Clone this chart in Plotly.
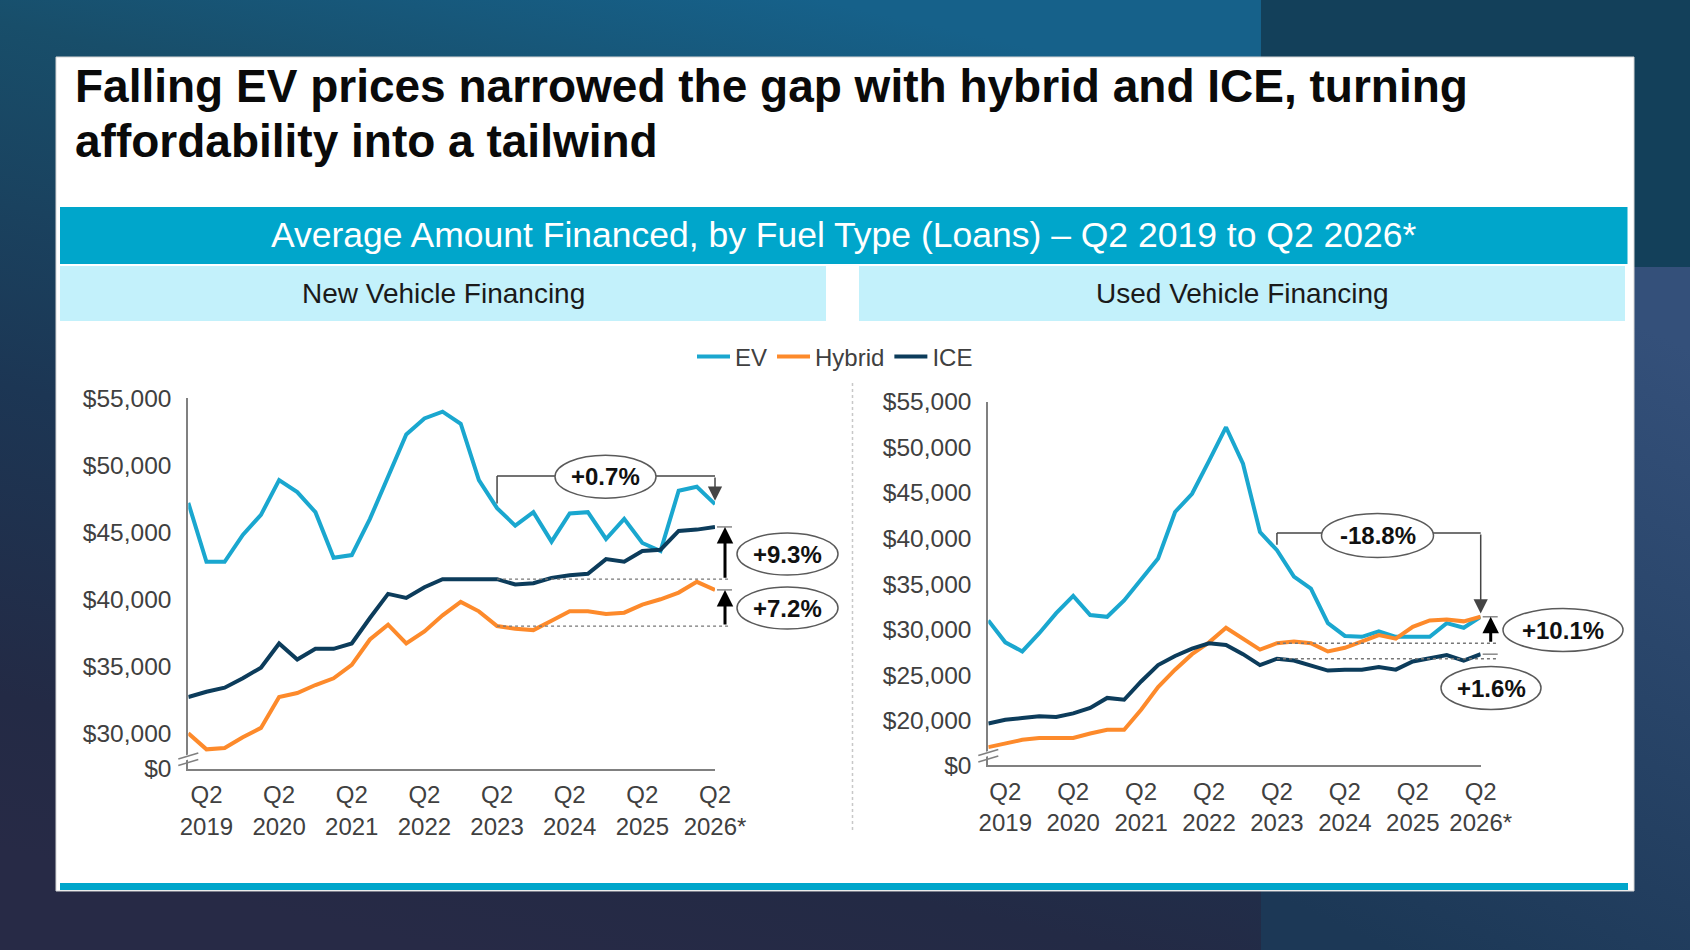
import base64
import plotly.graph_objects as go

# quarters Q1 2019 .. Q2 2026 (30 points)
quarters = [f"Q{q} {yr}" for yr in range(2019, 2027) for q in range(1, 5)][:30]
tick_quarters = [f"Q2 {yr}" for yr in range(2019, 2027)]
tick_text = ["Q2<br>2019", "Q2<br>2020", "Q2<br>2021", "Q2<br>2022",
             "Q2<br>2023", "Q2<br>2024", "Q2<br>2025", "Q2<br>2026*"]

# New vehicle financing ($)
ev_new = [47200, 42800, 42800, 44800, 46300, 48900, 48000, 46500, 43100, 43300,
          46000, 49100, 52300, 53500, 54000, 53100, 48900, 46800, 45500, 46500,
          44300, 46400, 46500, 44500, 46000, 44200, 43600, 48100, 48400, 47100]
hyb_new = [30000, 28800, 28900, 29700, 30400, 32700, 33000, 33600, 34100, 35100,
           37000, 38100, 36700, 37600, 38800, 39800, 39100, 38000, 37800, 37700,
           38400, 39100, 39100, 38900, 39000, 39600, 40000, 40500, 41300, 40700]
ice_new = [32700, 33100, 33400, 34100, 34900, 36700, 35500, 36300, 36300, 36700,
           38600, 40400, 40100, 40900, 41500, 41500, 41500, 41500, 41100, 41200,
           41600, 41800, 41900, 43000, 42800, 43600, 43700, 45100, 45200, 45400]

# Used vehicle financing ($)
ev_used = [31000, 28600, 27600, 29600, 31800, 33700, 31600, 31400, 33200, 35500,
           37800, 42900, 44900, 48500, 52200, 48200, 40700, 38700, 35800, 34500,
           30700, 29300, 29200, 29800, 29200, 29200, 29200, 30700, 30200, 31400]
hyb_used = [17100, 17500, 17900, 18100, 18100, 18100, 18600, 19000, 19000, 21200,
            23700, 25600, 27300, 28600, 30200, 29000, 27800, 28500, 28700, 28500,
            27600, 28000, 28700, 29400, 29000, 30300, 31000, 31100, 30900, 31400]
ice_used = [19700, 20100, 20300, 20500, 20400, 20800, 21400, 22500, 22300, 24300,
            26100, 27100, 27900, 28500, 28300, 27300, 26100, 26800, 26600, 26100,
            25500, 25600, 25600, 25900, 25600, 26500, 26800, 27200, 26600, 27300]

new_ticks = [30000, 35000, 40000, 45000, 50000, 55000]
used_ticks = [20000, 25000, 30000, 35000, 40000, 45000, 50000, 55000]

labels_new = {"ev": "+0.7%", "ice": "+9.3%", "hyb": "+7.2%"}
labels_used = {"ev": "-18.8%", "hyb": "+10.1%", "ice": "+1.6%"}

W, H = 1690, 950
FONT = "Liberation Sans, Arial, sans-serif"
C_EV, C_HYB, C_ICE = "#1aa7cf", "#fd8a2b", "#0c3c5b"
TEAL = "#00a6cb"


def px(x):
    return x / W


def py(y):
    return 1 - y / H


# plot areas in pixels
L_X0, L_X1, L_Y0, L_Y1 = 188.3, 715, 398.3, 768.5
R_X0, R_X1, R_Y0, R_Y1 = 988.3, 1480.7, 401.7, 765
new_base = 27370   # where the broken axis shows $0
used_base = 15140
i0 = 17            # Q2 2023, base of the comparisons


def xl(i, dx=0):
    return px(L_X0 + i * (L_X1 - L_X0) / 29 + dx)


def xr(i, dx=0):
    return px(R_X0 + i * (R_X1 - R_X0) / 29 + dx)


fig = go.Figure()

for name, vals, col in [("EV", ev_new, C_EV), ("Hybrid", hyb_new, C_HYB), ("ICE", ice_new, C_ICE)]:
    fig.add_trace(go.Scatter(x=quarters, y=vals, name=name, mode="lines",
                             line=dict(color=col, width=4), cliponaxis=False,
                             xaxis="x", yaxis="y"))
for name, vals, col in [("EV", ev_used, C_EV), ("Hybrid", hyb_used, C_HYB), ("ICE", ice_used, C_ICE)]:
    fig.add_trace(go.Scatter(x=quarters, y=vals, name=name, mode="lines", showlegend=False,
                             line=dict(color=col, width=4), cliponaxis=False,
                             xaxis="x2", yaxis="y2"))

# background picture (gradient) as svg
svg = f"""<svg xmlns='http://www.w3.org/2000/svg' width='{W}' height='{H}' viewBox='0 0 {W} {H}' preserveAspectRatio='none'>
<defs>
<linearGradient id='a' x1='0.65' y1='0' x2='0.35' y2='1'>
<stop offset='0' stop-color='#16618a'/>
<stop offset='0.2' stop-color='#184e6a'/>
<stop offset='0.55' stop-color='#1c3654'/>
<stop offset='0.85' stop-color='#232a45'/>
<stop offset='1' stop-color='#272a46'/>
</linearGradient>
<linearGradient id='b' x1='0.6' y1='0' x2='0.3' y2='1'>
<stop offset='0' stop-color='#34507a'/>
<stop offset='1' stop-color='#1c3856'/>
</linearGradient>
</defs>
<rect x='0' y='0' width='1261' height='{H}' fill='url(#a)'/>
<rect x='1261' y='0' width='429' height='267' fill='#13405a'/>
<rect x='1261' y='267' width='429' height='683' fill='url(#b)'/>
</svg>"""
bg_src = "data:image/svg+xml;base64," + base64.b64encode(svg.encode()).decode()

shapes = []


def rect(x0, y0, x1, y1, fill, line=None):
    shapes.append(dict(type="rect", xref="paper", yref="paper", layer="below",
                       x0=px(x0), x1=px(x1), y0=py(y1), y1=py(y0), fillcolor=fill,
                       line=dict(width=1 if line else 0, color=line or fill)))


rect(56, 57, 1634, 891, "white", "#d6d6d6")
rect(60, 207, 1627.5, 264, TEAL)
rect(60, 266, 826, 321, "#c3f1fb")
rect(859, 266, 1625, 321, "#c3f1fb")
rect(60, 883, 1628, 890, TEAL)

# dotted separator
shapes.append(dict(type="line", xref="paper", yref="paper", x0=px(852.5), x1=px(852.5),
                   y0=py(383), y1=py(830), line=dict(color="#c8c8c8", width=1.5, dash="dot")))

# axis breaks
for ax0, yb in [(L_X0, L_Y1), (R_X0, R_Y1)]:
    shapes.append(dict(type="path", xref="paper", yref="paper",
                       path=f"M{px(ax0 - 3)},{py(yb - 8)} L{px(ax0 + 3)},{py(yb - 10)} "
                            f"L{px(ax0 + 3)},{py(yb - 15)} L{px(ax0 - 3)},{py(yb - 13)} Z",
                       fillcolor="white", line=dict(width=0)))
    for off in (6, 12.5):
        shapes.append(dict(type="line", xref="paper", yref="paper",
                           x0=px(ax0 - 10), y0=py(yb - off + 3), x1=px(ax0 + 10), y1=py(yb - off - 3),
                           line=dict(color="#808080", width=1.5)))

annotations = []
GRAY = "#454545"


def line(x0, y0, x1, y1, yref, dash=None, color=GRAY, width=1.5):
    shapes.append(dict(type="line", xref="paper", yref=yref, x0=x0, x1=x1, y0=y0, y1=y1,
                       line=dict(color=color, width=width, dash=dash)))


def bubble(cx, cy, w, h, text):
    shapes.append(dict(type="circle", xref="paper", yref="paper",
                       x0=px(cx - w / 2), x1=px(cx + w / 2), y0=py(cy + h / 2), y1=py(cy - h / 2),
                       fillcolor="white", line=dict(color="#5a5a5a", width=1.5)))
    annotations.append(dict(x=px(cx), y=py(cy), xref="paper", yref="paper", text=f"<b>{text}</b>",
                            xanchor="center", yanchor="middle", showarrow=False,
                            font=dict(family=FONT, size=24, color="#111111")))


def arrow(x, y_from, y_to, yref, color="black", width=3, size=1.1):
    annotations.append(dict(x=x, y=y_to, xref="paper", yref=yref, ax=0, ay=y_from, ayref=yref,
                            text="", showarrow=True, arrowhead=2, arrowsize=size,
                            arrowwidth=width, arrowcolor=color, standoff=0))


# New vehicles: EV bracket
line(xl(i0), ev_new[i0] + 350, xl(i0), 49200, "y")
line(xl(i0), 49200, xl(29), 49200, "y")
arrow(xl(29), 49200, ev_new[29] + 250, "y", color=GRAY, width=1.5, size=1.9)
bubble(605.5, 476.7, 101, 43, labels_new["ev"])

# New vehicles: ICE and hybrid gaps vs Q2 2023
for vals in (ice_new, hyb_new):
    line(xl(i0), vals[i0], xl(29, 16), vals[i0], "y", dash="3px,3px", color="#777777", width=1.3)
    line(xl(29, 2), vals[29], xl(29, 17), vals[29], "y", color="#777777", width=1.3)
    arrow(xl(29, 10), vals[i0], vals[29], "y")
bubble(787.5, 554, 101, 42, labels_new["ice"])
bubble(787.5, 608, 101, 42, labels_new["hyb"])

# Used vehicles: EV bracket
line(xr(i0), ev_used[i0] + 600, xr(i0), 40600, "y2")
line(xr(i0), 40600, xr(29), 40600, "y2")
arrow(xr(29), 40600, ev_used[29] + 350, "y2", color=GRAY, width=1.5, size=1.9)
bubble(1377.5, 535.6, 112, 44, labels_used["ev"])

for vals in (hyb_used, ice_used):
    line(xr(i0), vals[i0], xr(29, 16), vals[i0], "y2", dash="3px,3px", color="#777777", width=1.3)
    line(xr(29, 2), vals[29], xr(29, 17), vals[29], "y2", color="#777777", width=1.3)
    arrow(xr(29, 10), vals[i0], vals[29], "y2")
bubble(1563, 630, 120, 43, labels_used["hyb"])
bubble(1491, 688, 100, 43, labels_used["ice"])


def text(x, y, s, size, color, anchor="center"):
    annotations.append(dict(x=px(x), y=py(y), xref="paper", yref="paper", text=s,
                            xanchor=anchor, yanchor="middle", showarrow=False,
                            font=dict(family=FONT, size=size, color=color)))


text(73, 86, "<b>Falling EV prices narrowed the gap with hybrid and ICE, turning</b>", 46, "#0a0a0a", "left")
text(73, 141, "<b>affordability into a tailwind</b>", 46, "#0a0a0a", "left")
text(843.5, 234.7, "Average Amount Financed, by Fuel Type (Loans) \u2013 Q2 2019 to Q2 2026*", 35.5, "white")
text(443, 293, "New Vehicle Financing", 28, "#1a1a1a")
text(1242, 293, "Used Vehicle Financing", 28, "#1a1a1a")

xcommon = dict(type="category", categoryorder="array", categoryarray=quarters, range=[0, 29],
               showgrid=False, zeroline=False, showline=True, linecolor="#808080", linewidth=2,
               ticks="", tickvals=tick_quarters, ticktext=tick_text, ticklabelstandoff=4,
               automargin=False, tickfont=dict(family=FONT, size=24, color="#404040"))
ycommon = dict(showgrid=False, zeroline=False, showline=True, linecolor="#808080", linewidth=2,
               ticks="", ticklabelstandoff=10, automargin=False,
               tickfont=dict(family=FONT, size=24.5, color="#404040"))

fig.update_layout(
    width=W, height=H, margin=dict(l=0, r=0, t=0, b=0, pad=0, autoexpand=False),
    paper_bgcolor="#1d3550", plot_bgcolor="rgba(0,0,0,0)",
    font=dict(family=FONT),
    xaxis=dict(xcommon, domain=[px(L_X0), px(L_X1)], anchor="y"),
    yaxis=dict(ycommon, domain=[py(L_Y1), py(L_Y0)], range=[new_base, 55000], anchor="x",
               tickvals=[new_base] + new_ticks,
               ticktext=["$0"] + [f"${v:,.0f}" for v in new_ticks]),
    xaxis2=dict(xcommon, domain=[px(R_X0), px(R_X1)], anchor="y2"),
    yaxis2=dict(ycommon, domain=[py(R_Y1), py(R_Y0)], range=[used_base, 55000], anchor="x2",
                tickvals=[used_base] + used_ticks,
                ticktext=["$0"] + [f"${v:,.0f}" for v in used_ticks]),
    legend=dict(orientation="h", x=px(835), y=py(357), xanchor="center", yanchor="middle",
                font=dict(family=FONT, size=24, color="#404040"), bgcolor="rgba(0,0,0,0)",
                itemwidth=33),
    images=[dict(source=bg_src, xref="paper", yref="paper", x=0, y=1, sizex=1, sizey=1,
                 xanchor="left", yanchor="top", sizing="stretch", layer="below")],
    shapes=shapes, annotations=annotations, showlegend=True,
)

# the page's default body margin would shift the figure by 8px
fig.write_html("out.html", config={"displayModeBar": False},
               post_script="document.body.style.margin='0px';")
